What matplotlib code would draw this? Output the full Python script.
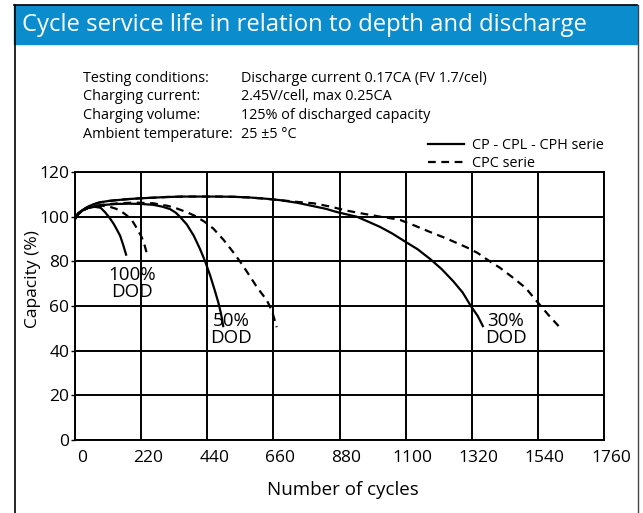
import matplotlib.pyplot as plt
from matplotlib.patches import Rectangle
from matplotlib.lines import Line2D
from matplotlib.transforms import ScaledTranslation

plt.rcParams['font.family'] = ['Open Sans', 'DejaVu Sans']

# Данные (циклы, ёмкость %)
cyc_100_cp = [0, 10, 25, 45, 66, 85, 100, 116, 130, 142, 150, 160, 170]
cap_100_cp = [99, 101, 102.8, 104, 104.4, 104, 102, 99.3, 96.5, 93.5, 91.5, 87.5, 83]

cyc_100_cpc = [0, 10, 25, 45, 66, 90, 116, 135, 150, 170, 189, 205, 222, 232, 240]
cap_100_cpc = [99, 101, 102.8, 104, 104.6, 104.9, 104.4, 103.6, 102.7, 100.8, 98.5, 95, 90.8, 87, 83]

cyc_50_cp = [0, 10, 25, 45, 66, 100, 140, 180, 220, 260, 290, 316, 335, 349, 372,
             395, 416, 433, 450, 465, 477, 485, 490, 493]
cap_50_cp = [99, 101, 102.8, 104, 104.7, 105.3, 105.7, 105.8, 105.7, 105.3, 104.5, 103.4,
             101.8, 100, 96.5, 91.5, 85.5, 80, 73.5, 67, 61.5, 57, 53.5, 51]

cyc_50_cpc = [0, 10, 25, 45, 66, 100, 150, 200, 260, 310, 340, 372, 400, 430, 460,
              495, 527, 555, 582, 605, 638, 655, 671]
cap_50_cpc = [99, 101, 102.8, 104, 104.8, 105.5, 106, 106.3, 106, 104.8, 103.6, 102,
              100.3, 97.8, 94.7, 89.5, 84, 78.8, 73.3, 68.5, 62.6, 58, 50.5]

cyc_30_cp = [0, 10, 25, 40, 60, 83, 110, 139, 180, 216, 260, 305, 360, 416, 470, 527,
             580, 638, 682, 740, 793, 835, 873, 905, 937, 975, 1015, 1055, 1093, 1140,
             1182, 1220, 1259, 1290, 1317, 1340, 1357]
cap_30_cp = [99, 101.5, 103, 104.2, 105.5, 106.4, 107, 107.4, 107.9, 108.2, 108.5, 108.8,
             109, 109, 109, 108.9, 108.6, 108, 107.4, 106.2, 104.7, 103.5, 102, 101, 100,
             97.8, 95.4, 92.5, 89.3, 85.4, 81, 76.5, 71, 66, 60, 55.5, 51]

cyc_30_cpc = [0, 10, 25, 40, 60, 83, 110, 139, 180, 216, 260, 305, 360, 416, 470, 527,
              580, 638, 682, 740, 793, 850, 904, 960, 1015, 1050, 1082, 1130, 1182, 1240,
              1304, 1340, 1370, 1415, 1459, 1500, 1537, 1550, 1575, 1609]
cap_30_cpc = [99, 101.5, 103, 104.2, 105.5, 106.4, 107, 107.4, 107.9, 108.2, 108.5, 108.8,
              109, 109, 109, 108.9, 108.6, 108, 107.4, 106.6, 106, 104.5, 102.7, 101.3,
              100, 99.3, 98.5, 96, 93.1, 90, 86.2, 83.7, 80.9, 77, 72.5, 68, 62, 60, 56, 51]

x_ticks = [0, 220, 440, 660, 880, 1100, 1320, 1540, 1760]
y_ticks = [0, 20, 40, 60, 80, 100, 120]

conditions = ["Testing conditions:", "Charging current:", "Charging volume:", "Ambient temperature:"]
condition_values = ["Discharge current 0.17CA (FV 1.7/cel)", "2.45V/cell, max 0.25CA",
                    "125% of discharged capacity", "25 \u00b15 \u00b0C"]

W, H = 643, 513
fig = plt.figure(figsize=(W / 100, H / 100), dpi=100)


def fx(px):
    return px / W


def fy(py):
    return 1 - py / H


# Синяя плашка с заголовком и рамка
fig.add_artist(Rectangle((fx(14), fy(44)), fx(637) - fx(14), fy(5) - fy(44),
                         transform=fig.transFigure, color="#0b8dcd", zorder=0))
fig.add_artist(Line2D([fx(14), fx(637)], [fy(4.5), fy(4.5)], color="black", lw=1.2))
fig.add_artist(Line2D([fx(14.5), fx(14.5)], [fy(4.5), 0], color="black", lw=1.2))
fig.add_artist(Line2D([fx(637.5), fx(637.5)], [fy(4.5), 0], color="#444444", lw=1.0))
fig.text(fx(22), fy(25), "Cycle service life in relation to depth and discharge",
         color="white", fontsize=17.2, ha="left", va="center")

# Условия испытаний
for i, (name, val) in enumerate(zip(conditions, condition_values)):
    fig.text(fx(83), fy(78 + i * 18.7), name, fontsize=10.4, ha="left", va="center")
    fig.text(fx(241), fy(78 + i * 18.7), val, fontsize=10.4, ha="left", va="center")

ax = fig.add_axes([fx(75), fy(440), fx(604) - fx(75), fy(172) - fy(440)])

ax.plot(cyc_100_cp, cap_100_cp, color="black", lw=1.6)
ax.plot(cyc_50_cp, cap_50_cp, color="black", lw=1.6)
ax.plot(cyc_30_cp, cap_30_cp, color="black", lw=1.6, label="CP - CPL - CPH serie")
ax.plot(cyc_100_cpc, cap_100_cpc, color="black", lw=1.6, linestyle=(0, (3.5, 2.5)))
ax.plot(cyc_50_cpc, cap_50_cpc, color="black", lw=1.6, linestyle=(0, (3.5, 2.5)))
ax.plot(cyc_30_cpc, cap_30_cpc, color="black", lw=1.6, linestyle=(0, (3.5, 2.5)),
        label="CPC serie")

ax.text(190, 70, "100%\nDOD", fontsize=13.5, ha="center", va="center", linespacing=0.95)
ax.text(520, 49.4, "50%\nDOD", fontsize=13.5, ha="center", va="center", linespacing=0.95)
ax.text(1434, 49.4, "30%\nDOD", fontsize=13.5, ha="center", va="center", linespacing=0.95)

ax.set_xlim(0, 1760)
ax.set_ylim(0, 120)
ax.set_xticks(x_ticks)
ax.set_yticks(y_ticks)
ax.grid(True, color="black", lw=1.4)
for s in ax.spines.values():
    s.set_linewidth(1.4)
ax.tick_params(axis="x", length=0, labelsize=12.5, pad=7)
ax.tick_params(axis="y", length=3, width=1, labelsize=12.5, pad=1)
for lab in ax.get_xticklabels():
    lab.set_transform(lab.get_transform() + ScaledTranslation(7 / 100, 0, fig.dpi_scale_trans))

ax.set_xlabel("Number of cycles", fontsize=13.5, va="center")
ax.xaxis.set_label_coords(0.507, -0.187)
ax.set_ylabel("Capacity (%)", fontsize=12.5, va="center")
ax.yaxis.set_label_coords(-0.079, 0.60)

ax.legend(loc="upper left", bbox_to_anchor=(fx(421), fy(131)), bbox_transform=fig.transFigure,
          frameon=False, fontsize=10.4, handlelength=2.5, handletextpad=0.55,
          borderpad=0, labelspacing=0.2)

fig.savefig("out.png", dpi=100)
